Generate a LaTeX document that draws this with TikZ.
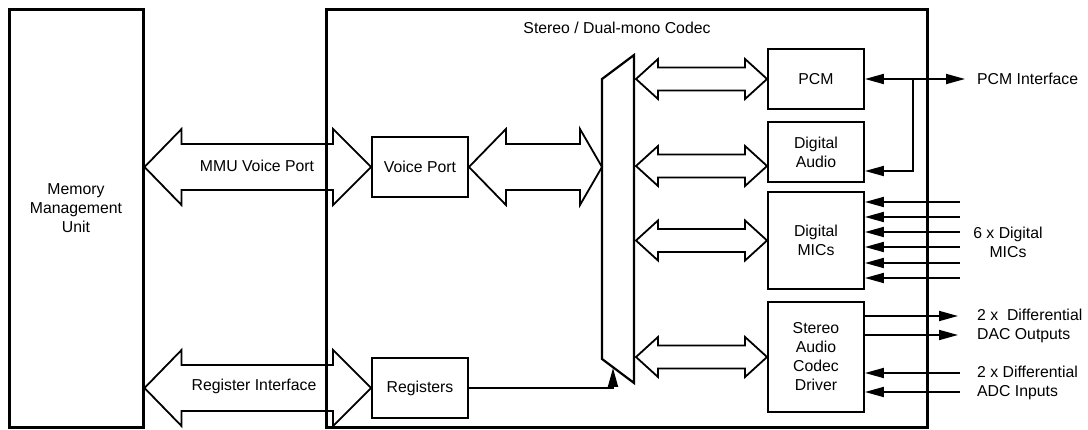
\documentclass[tikz,border=0pt]{standalone}
\usepackage{fontspec}
\setmainfont{Liberation Sans}
\usetikzlibrary{calc,arrows.meta}

\tikzset{
  blk/.style={draw, line width=1.9pt, minimum width=96pt, minimum height=60pt, align=center, inner sep=0pt},
  frame/.style={draw, line width=3pt, inner sep=0pt},
  bus/.style={draw, line width=1.8pt, line join=miter},
  sig/.style={line width=1.8pt, -{Triangle[length=19pt,width=10pt]}},
  lbl/.style={align=left, anchor=west, inner sep=0pt},
}

% double block arrow: from, to, shaft half, head half, left head length, right head length
\newcommand{\busarrow}[6]{%
  \draw[bus] let \p1=(#1), \p2=(#2) in
    (\x1,\y1) -- (\x1+#5pt,\y1+#4pt) -- (\x1+#5pt,\y1+#3pt) -- (\x2-#6pt,\y1+#3pt)
    -- (\x2-#6pt,\y1+#4pt) -- (\x2,\y1) -- (\x2-#6pt,\y1-#4pt) -- (\x2-#6pt,\y1-#3pt)
    -- (\x1+#5pt,\y1-#3pt) -- (\x1+#5pt,\y1-#4pt) -- cycle;}

\begin{document}
\begin{tikzpicture}[x=1pt, y=-1pt, font=\fontsize{15.8}{19}\selectfont]
  \useasboundingbox (0,0) rectangle (1088,430);

  % outer frames
  \node[frame, minimum width=134pt, minimum height=418pt] (mmu) at (76,219) {};
  \node[align=center] (mmutxt) at (76,208) {Memory\\Management\\Unit};
  \node[frame, minimum width=601pt, minimum height=418pt] (codec) at (626.5,219) {};
  \node (title) at (617,28) {Stereo / Dual-mono Codec};

  % blocks
  \node[blk] (vp) at (420,167) {Voice Port};
  \node[blk] (reg) at (420,388) {Registers};
  \node[blk] (pcm) at (816,79) {PCM};
  \node[blk] (da) at (816,152) {Digital\\Audio};
  \node[blk, minimum height=97pt] (mics) at (816,240.5) {Digital\\MICs};
  \node[blk, minimum height=110pt] (drv) at (816,357) {Stereo\\Audio\\Codec\\Driver};

  % switch
  \draw[line width=2.2pt, line join=miter] (602,79) -- (634,55) -- (634,383) -- (602,359) -- cycle;
  \coordinate (muxL) at (602,219);
  \coordinate (muxR) at (636,219);
  \coordinate (dabus) at ([yshift=-14pt]da.west);

  % buses
  \busarrow{mmu.east |- vp}{vp.west}{23}{38}{37}{38}
  \busarrow{mmu.east |- reg}{reg.west}{23}{38}{37}{38}
  \busarrow{vp.east}{muxL |- vp}{23}{38}{37}{22}
  \busarrow{muxR |- pcm}{pcm.west}{11.5}{20}{22}{22}
  \busarrow{muxR |- dabus}{dabus}{11.5}{20}{22}{22}
  \busarrow{muxR |- mics}{mics.west}{11.5}{20}{22}{22}
  \busarrow{muxR |- drv}{drv.west}{11.5}{20}{22}{22}
  \node (mmuvp) at (257,166) {MMU Voice Port};
  \node (regif) at (254,386) {Register Interface};

  % control
  \coordinate (muxin) at (613,368);
  \draw[sig] (reg.east) -| (muxin);

  % external signals
  \node[lbl] (pcmif) at (977,79) {PCM Interface};
  \coordinate (pcmtip) at (965,79);
  \coordinate (pcmsplit) at (913,79);
  \draw[sig, {Triangle[length=19pt,width=10pt]}-{Triangle[length=19pt,width=10pt]}] (pcm.east) -- (pcmtip);
  \draw[sig] (pcmsplit) |- ([yshift=-19pt]da.east);

  \coordinate (inx) at (960,0);
  \coordinate (outx) at (958,0);
  \foreach \y in {202,217,232,247,263,278}
    \draw[sig] (inx |- 0,\y) -- (mics.east |- 0,\y);
  \foreach \y in {316,335}
    \draw[sig] (drv.east |- 0,\y) -- (outx |- 0,\y);
  \foreach \y in {373,392}
    \draw[sig] (inx |- 0,\y) -- (drv.east |- 0,\y);

  \node[align=center] (micin) at (1008,242) {6 x Digital\\MICs};
  \node[lbl] (dac) at (977,325.5) {2 x\ \ Differential\\DAC Outputs};
  \node[lbl] (adc) at (977,382.5) {2 x Differential\\ADC Inputs};
\end{tikzpicture}
\end{document}
